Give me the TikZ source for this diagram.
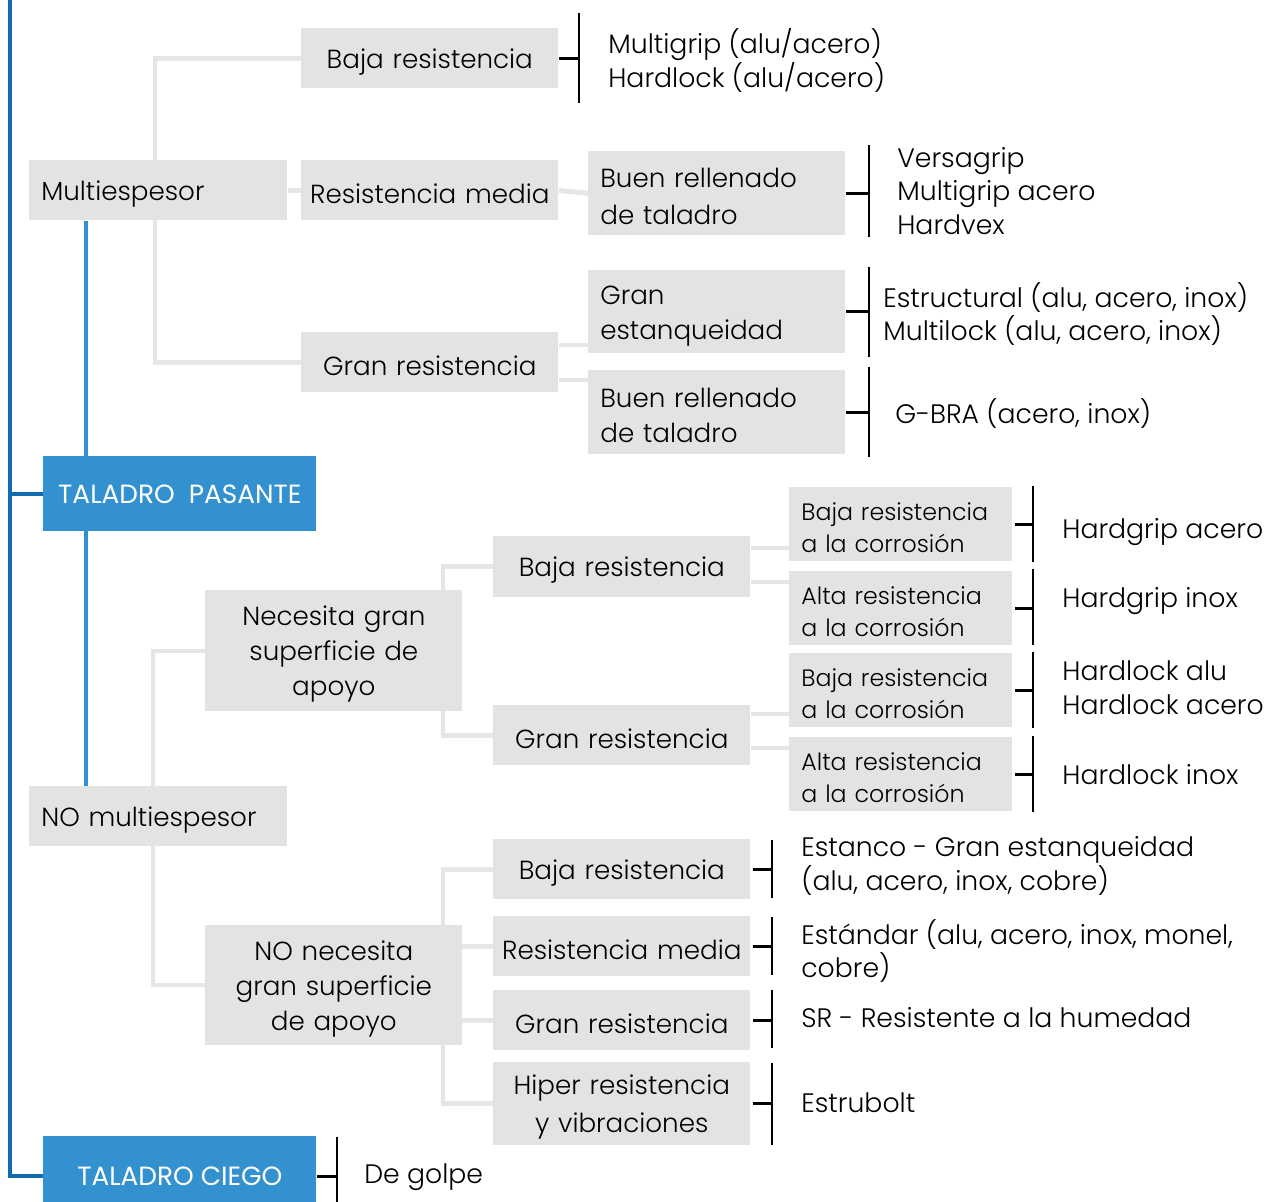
\documentclass[tikz,border=0pt]{standalone}
\usepackage{fontspec}
\IfFontExistsTF{Poppins Light}{\setmainfont{Poppins Light}}{\setmainfont{Poppins}}
\newfontfamily\bluefont{Poppins}
\usetikzlibrary{backgrounds}
\definecolor{boxgray}{HTML}{E3E3E3}
\definecolor{linegray}{HTML}{E6E6E6}
\definecolor{lightblue}{HTML}{3391CF}
\definecolor{darkblue}{HTML}{106BAF}

\tikzset{
  box/.style={fill=boxgray, inner xsep=0pt, inner ysep=0pt, minimum width=5.14cm, text width=5.14cm,
    minimum height=1.2cm, text height=15pt, anchor=north west, align=center,
    font=\fontsize{14.9}{20}\selectfont},
  leftbox/.style={box, inner xsep=0.24cm, text width=4.66cm, align=left},
  corrbox/.style={box, inner xsep=0.24cm, minimum width=4.46cm, text width=3.98cm, minimum height=1.48cm,
    align=left, text height=13.5pt, font=\fontsize{13.5}{18.2}\selectfont},
  bluebox/.style={fill=lightblue, text=white, inner sep=0pt, minimum width=5.46cm,
    anchor=north west, font=\bluefont\fontsize{15}{18}\selectfont},
  listtext/.style={anchor=west, inner sep=0pt, align=left, font=\fontsize{15.2}{19.3}\selectfont},
  gline/.style={linegray, line width=2.8pt},
  bline/.style={lightblue, line width=2.3pt},
  dline/.style={darkblue, line width=2.3pt},
  bk/.style={black, line width=1.6pt}
}

\begin{document}
\begin{tikzpicture}[x=0.02cm, y=-0.02cm]
\useasboundingbox (0,0) rectangle (1280,1202);

% main blue boxes
\node[bluebox, minimum height=1.5cm] (pasante) at (43,456) {TALADRO\ \ PASANTE};
\node[bluebox, minimum height=1.6cm] (ciego) at (43,1136) {TALADRO CIEGO};

% Multiespesor branch
\node[leftbox, minimum width=5.16cm, text width=4.68cm] (multi) at (29,160) {Multiespesor};
\node[box] (baja1) at (301,28) {Baja resistencia};
\node[box] (resmed1) at (301,160) {Resistencia media};
\node[box] (gran1) at (301,332) {Gran resistencia};
\node[leftbox, minimum height=1.68cm] (rell1) at (588,151) {Buen rellenado\\[1pt]de taladro};
\node[leftbox, minimum height=1.66cm] (estanq) at (588,270) {Gran\\estanqueidad};
\node[leftbox, minimum height=1.68cm] (rell2) at (588,370) {Buen rellenado\\de taladro};

% NO multiespesor branch
\node[leftbox, minimum width=5.16cm, text width=4.68cm] (nomulti) at (29,786) {NO multiespesor};
\node[box, minimum height=2.42cm] (nec) at (205,590) {Necesita gran\\superficie de\\apoyo};
\node[box, minimum height=1.22cm] (baja2) at (493,536) {Baja resistencia};
\node[box] (gran2) at (493,705) {Gran resistencia};
\node[corrbox] (bc1) at (789,487) {Baja resistencia\\a la corrosión};
\node[corrbox] (ac1) at (789,571) {Alta resistencia\\a la corrosión};
\node[corrbox] (bc2) at (789,653) {Baja resistencia\\a la corrosión};
\node[corrbox] (ac2) at (789,737) {Alta resistencia\\a la corrosión};

\node[box, minimum height=2.4cm] (nonec) at (205,925) {NO necesita\\gran superficie\\de apoyo};
\node[box] (baja3) at (493,839) {Baja resistencia};
\node[box] (resmed2) at (493,916) {Resistencia media};
\node[box] (gran3) at (493,990) {Gran resistencia};
\node[box, minimum height=1.66cm] (hiper) at (493,1062) {Hiper resistencia\\[2pt]y vibraciones};

% product lists
\node[listtext] (l1) at (608,60) {Multigrip (alu/acero)\\Hardlock (alu/acero)};
\node[listtext] (l2) at (897,191) {Versagrip\\Multigrip acero\\Hardvex};
\node[listtext] (l3) at (883,314) {Estructural (alu, acero, inox)\\Multilock (alu, acero, inox)};
\node[listtext] (l4) at (895,414) {G-BRA (acero, inox)};
\node[listtext] (l5) at (1062,532) {Hardgrip acero};
\node[listtext] (l6) at (1062,601) {Hardgrip inox};
\node[listtext] (l7) at (1062,688) {Hardlock alu\\Hardlock acero};
\node[listtext] (l8) at (1062,775) {Hardlock inox};
\node[listtext] (l9) at (801,866) {Estanco - Gran estanqueidad\\(alu, acero, inox, cobre)};
\node[listtext] (l10) at (801,951) {Estándar (alu, acero, inox, monel,\\cobre)};
\node[listtext] (l11) at (801,1018) {SR - Resistente a la humedad};
\node[listtext] (l12) at (801,1103) {Estrubolt};
\node[listtext] (l13) at (364,1177) {De golpe};

% connectors behind the boxes
\begin{scope}[on background layer]
  \coordinate (root) at (10,0);
  \draw[dline] (root) |- (pasante.west);
  \draw[dline] (root) |- (ciego.west);
  \coordinate (trunk) at (86,0);
  \draw[bline] (multi.south -| trunk) -- (nomulti.north -| trunk);

  \coordinate (mj) at (155,192);
  \draw[gline] (mj) |- (baja1.west);
  \draw[gline] (mj) |- (gran1.west);
  \draw[gline] (multi.east) -- (resmed1.west);
  \draw[gline] (resmed1.east) -- (rell1.west);
  \draw[gline] (gran1.east |- 0,345) -- (estanq.west |- 0,345);
  \draw[gline] (gran1.east |- 0,380) -- (rell2.west |- 0,380);

  \coordinate (nj) at (153,816);
  \draw[gline] (nj) |- (nec.west |- 0,651);
  \draw[gline] (nj) |- (nonec.west |- 0,985);
  \coordinate (necj) at (443,650);
  \draw[gline] (necj) |- (baja2.west);
  \draw[gline] (necj) |- (gran2.west);
  \draw[gline] (baja2.east |- 0,548) -- (bc1.west |- 0,548);
  \draw[gline] (baja2.east |- 0,582) -- (ac1.west |- 0,582);
  \draw[gline] (gran2.east |- 0,714) -- (bc2.west |- 0,714);
  \draw[gline] (gran2.east |- 0,748) -- (ac2.west |- 0,748);

  \coordinate (nonecj) at (443,985);
  \draw[gline] (nonecj) |- (baja3.west);
  \draw[gline] (nonecj) |- (resmed2.west);
  \draw[gline] (nonecj) |- (gran3.west);
  \draw[gline] (nonecj) |- (hiper.west);
\end{scope}

% brackets
\draw[bk] (baja1.east) -- (baja1.east -| 579,0);
\draw[bk] (579,13) -- (579,103);
\draw[bk] (rell1.east) -- (rell1.east -| 869,0);
\draw[bk] (869,145) -- (869,237);
\draw[bk] (estanq.east) -- (estanq.east -| 869,0);
\draw[bk] (869,267) -- (869,357);
\draw[bk] (rell2.east) -- (rell2.east -| 869,0);
\draw[bk] (869,367) -- (869,457);

\draw[bk] (bc1.east) ++(2,0) -- (bc1.east -| 1033,0);
\draw[bk] (1033,486) -- (1033,562);
\draw[bk] (ac1.east) ++(2,0) -- (ac1.east -| 1033,0);
\draw[bk] (1033,569) -- (1033,645);
\draw[bk] (bc2.east) ++(2,0) -- (bc2.east -| 1033,0);
\draw[bk] (1033,652) -- (1033,728);
\draw[bk] (ac2.east) ++(2,0) -- (ac2.east -| 1033,0);
\draw[bk] (1033,736) -- (1033,812);

\draw[bk] (baja3.east) ++(2,0) -- (baja3.east -| 772,0);
\draw[bk] (772,840) -- (772,898);
\draw[bk] (resmed2.east) ++(2,0) -- (resmed2.east -| 772,0);
\draw[bk] (772,917) -- (772,975);
\draw[bk] (gran3.east) ++(2,0) -- (gran3.east -| 772,0);
\draw[bk] (772,990) -- (772,1048);
\draw[bk] (hiper.east) ++(2,0) -- (hiper.east -| 772,0);
\draw[bk] (772,1063) -- (772,1145);

\draw[bk] (ciego.east) -- (ciego.east -| 337,0);
\draw[bk] (337,1137) -- (337,1202);
\end{tikzpicture}
\end{document}
